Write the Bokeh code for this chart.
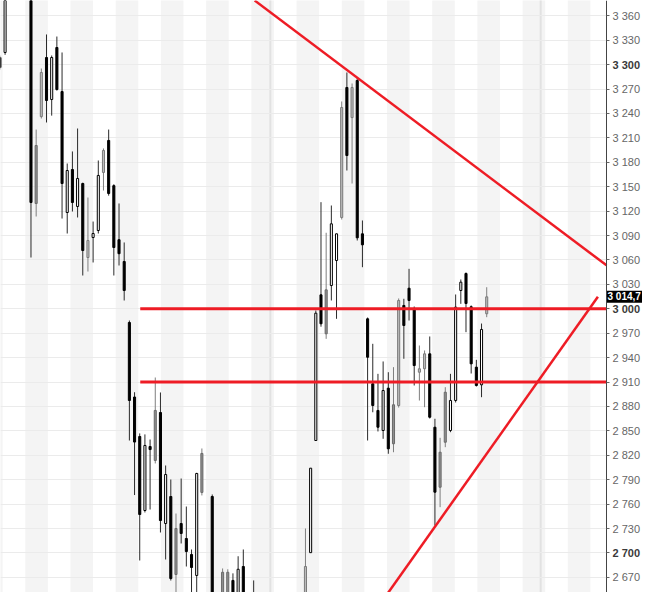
from bokeh.plotting import figure
from bokeh.models import Range1d, FixedTicker, CustomJSTickFormatter, ColumnDataSource
from bokeh.core.properties import value
from bokeh.embed import file_html
from bokeh.resources import INLINE

# ---------------- data (trading-day index, OHLC, candle look) ----------------
days = [0, 1, 6, 7, 8, 9, 10, 11, 12, 13, 14, 15, 16, 17, 18, 19, 20, 21, 22, 23, 24,
        25, 26, 27, 28, 29, 30, 31, 32, 33, 34, 35, 36, 37, 38, 39, 41, 43, 44, 45, 46, 47, 49, 50,
        59, 60, 61, 62, 63, 64, 65, 66, 67, 68, 69, 70, 71, 72, 73, 74, 75, 76, 77, 78, 79,
        80, 81, 82, 83, 84, 85, 86, 87, 88, 89, 90, 91, 92, 93, 94]
opens = [3308.7, 3314.9, 3395.0, 3129.4, 3236.1, 3308.7, 3257.1, 3321.0, 3266.9, 3118.3, 3171.1, 3125.7,
         3153.9, 3063.0, 3087.6, 3096.2, 3167.5, 3206.8, 3151.3, 3084.9, 3058.1,
         2983.2, 2891.6, 2843.1, 2752.2, 2830.8, 2813.7, 2872.6, 2736.2, 2769.4, 2673.6, 2736.2, 2717.8,
         2698.2, 2672.4, 2774.4, 2769.4, 2630.0, 2632.0, 2666.3, 2630.0, 2683.4, 2648.0, 2620.0,
         2630.0, 2700.4, 2838.2, 3017.2, 2969.3, 3028.6, 3059.3, 3112.2, 3271.9, 3234.9, 3280.5, 3092.1,
         2987.7, 2907.9, 2875.1, 2850.5, 2902.5, 2834.2, 2881.2, 3004.1, 3025.3,
         3000.4, 2922.1, 2926.3, 2944.7, 2854.5, 2780.8, 2836.1, 2850.5, 2887.4, 3022.5, 3043.4, 3002.5,
         2928.3, 2906.6, 2993.9]
highs = [3311.0, 3395.0, 3400.0, 3220.2, 3295.2, 3337.0, 3311.2, 3334.5, 3314.9, 3178.5, 3193.3, 3221.5,
         3155.0, 3136.7, 3107.2, 3182.2, 3197.0, 3220.2, 3153.0, 3129.4, 3081.5,
         2985.6, 2897.5, 2846.9, 2845.7, 2839.4, 2915.6, 2897.2, 2807.5, 2790.3, 2748.5, 2791.5, 2757.1,
         2704.3, 2798.5, 2828.4, 2771.9, 2681.0, 2680.0, 2675.0, 2696.0, 2704.3, 2666.3, 2645.0,
         2730.1, 2804.2, 2997.9, 3131.0, 3093.4, 3126.9, 3092.5, 3254.7, 3290.3, 3276.8, 3284.2, 3108.5,
         2989.3, 2957.0, 2920.1, 2935.3, 2922.1, 2928.3, 3012.7, 3012.3, 3049.1,
         3002.8, 2954.9, 2948.8, 2966.0, 2864.9, 2841.5, 2903.7, 2920.1, 3017.6, 3036.0, 3044.6, 3004.1,
         2937.3, 2981.9, 3026.5]
lows = [3294.0, 3312.0, 3063.0, 3113.4, 3233.8, 3228.9, 3237.3, 3268.0, 3110.9, 3092.5, 3119.5, 3112.2,
        3040.9, 3045.8, 3056.9, 3092.5, 3145.3, 3139.0, 3040.9, 3053.2, 3010.2,
        2838.2, 2771.2, 2690.8, 2749.8, 2753.4, 2810.0, 2725.2, 2692.0, 2666.2, 2651.5, 2711.7, 2683.4,
        2646.6, 2630.0, 2770.7, 2615.0, 2620.0, 2618.0, 2610.0, 2620.0, 2615.0, 2600.0, 2600.0,
        2620.0, 2700.4, 2838.2, 2978.0, 2963.1, 3010.2, 2987.7, 3109.7, 3169.9, 3153.9, 3083.9, 3051.1,
        2838.2, 2872.9, 2849.3, 2840.3, 2821.9, 2823.8, 2878.7, 2938.6, 2985.6,
        2905.8, 2887.3, 2879.1, 2865.2, 2733.8, 2756.3, 2830.0, 2848.4, 2884.9, 3006.1, 2971.3, 2920.5,
        2904.5, 2891.4, 2989.7]
closes = [3296.4, 3390.0, 3130.6, 3200.6, 3290.3, 3255.9, 3308.7, 3269.4, 3153.9, 3169.9, 3130.6, 3160.1,
          3071.6, 3083.9, 3092.5, 3163.8, 3194.5, 3141.7, 3075.3, 3067.7, 3022.5,
          2887.4, 2836.3, 2747.3, 2832.1, 2827.1, 2875.1, 2739.9, 2796.4, 2668.6, 2730.1, 2724.0, 2701.8,
          2682.2, 2797.7, 2822.3, 2625.0, 2676.3, 2676.3, 2620.0, 2680.0, 2625.0, 2610.0, 2630.0,
          2683.4, 2804.2, 2994.6, 2981.6, 3023.3, 3104.4, 3092.1, 3247.3, 3188.3, 3271.9, 3087.2, 3078.6,
          2940.5, 2881.2, 2854.5, 2899.6, 2828.0, 2882.1, 3010.2, 2979.5, 3010.2,
          2930.3, 2926.3, 2944.7, 2866.8, 2774.7, 2823.8, 2897.5, 2887.4, 3002.0, 3032.7, 3006.5, 2932.4,
          2905.8, 2974.6, 3014.7]
styles = ["k", "w", "k", "g", "gw", "k", "w", "k", "k", "w", "k", "w",
          "k", "gw", "w", "w", "gw", "k", "k", "k", "k",
          "k", "k", "k", "w", "k", "g", "k", "w", "k", "g", "k", "k",
          "k", "w", "g", "k", "g", "g", "k", "w", "k", "k", "w",
          "gw", "w", "w", "k", "g", "w", "w", "gw", "k", "gw", "k", "k",
          "k", "k", "k", "w", "k", "g", "gw", "k", "k",
          "k", "gw", "gw", "k", "k", "g", "g", "w", "w", "w", "k", "k",
          "k", "w", "gw"]

tick_values = [2640, 2670, 2700, 2730, 2760, 2790, 2820, 2850, 2880, 2910, 2940, 2970, 3000,
               3030, 3060, 3090, 3120, 3150, 3180, 3210, 3240, 3270, 3300, 3330, 3360]
tick_labels = ["2 640", "2 670", "2 700", "2 730", "2 760", "2 790", "2 820", "2 850", "2 880",
               "2 910", "2 940", "2 970", "3 000", "3 030", "3 060", "3 090", "3 120", "3 150",
               "3 180", "3 210", "3 240", "3 270", "3 300", "3 330", "3 360"]
bold_ticks = [2700, 3000, 3300]

last_price = 3014.7
last_label = "3 014,7"

support_levels = [3000, 2910]
support_start = 27.1
upper_days = [49.2, 117.13]
upper_prices = [3378.7, 3053.4]
lower_days = [73.0, 115.47]
lower_prices = [2633.5, 3014.7]

# ---------------- layout / style ----------------
W, H = 642, 592
AX_PX = 606                       # pixel column of the price axis
X0, AX = 0.1147, 117.13           # left edge / axis position in trading days
PXD = AX_PX / (AX - X0)           # pixels per trading day
X1 = X0 + W / PXD
Y0, Y1 = 2651.47, 3378.75
PXP = H / (Y1 - Y0)               # pixels per price point
BAND_START, BAND_PERIOD, BAND_WIDTH = 4.9, 8.73, 4.36
SEPARATORS = [52.22, 104.42]
RED = "#ee1c25"
FONT = "Liberation Sans"

p = figure(width=W, height=H, output_backend="svg", toolbar_location=None,
           x_range=Range1d(X0, X1), y_range=Range1d(Y0, Y1),
           x_axis_location=None, y_axis_location="right",
           min_border_left=0, min_border_top=0, min_border_bottom=0, min_border_right=0)
p.outline_line_color = None
p.background_fill_color = "white"
p.border_fill_color = "white"

# alternating vertical bands
lefts = [BAND_START + k * BAND_PERIOD for k in range(-1, 13)]
p.quad(left=lefts, right=[min(l + BAND_WIDTH, AX) for l in lefts], bottom=Y0 - 500, top=Y1 + 500,
       fill_color="#f4f4f4", line_color=None, level="image")
p.segment(x0=SEPARATORS, x1=SEPARATORS, y0=[Y0 - 500] * 2, y1=[Y1 + 500] * 2,
          line_color="#e2e2e2", line_width=2, level="image")

ticker = FixedTicker(ticks=tick_values)
ax = p.yaxis[0]
ax.ticker = ticker
ax.fixed_location = AX
p.ygrid.ticker = ticker
p.ygrid.grid_line_color = "#ebebeb"
p.ygrid.grid_line_width = 1
p.xgrid.visible = False

# keep the axis area on the right free of grid lines
p.quad(left=[AX], right=[X1 + 5], bottom=[Y0 - 500], top=[Y1 + 500],
       fill_color="white", line_color=None)

fmt = CustomJSTickFormatter(args=dict(vals=tick_values, labs=tick_labels, bold=bold_ticks), code="""
for (let i = 0; i < vals.length; i++) {
  if (Math.abs(vals[i] - tick) < 1e-6) {
    for (const b of bold) { if (Math.abs(b - tick) < 1e-6) return ""; }
    return labs[i];
  }
}
return "";
""")
ax.formatter = fmt
ax.axis_line_color = "#444444"
ax.axis_line_width = 1
ax.major_tick_out = 3
ax.major_tick_in = 0
ax.minor_tick_line_color = None
ax.major_tick_line_color = "#666666"
ax.major_label_standoff = 3
ax.major_label_text_font = FONT
ax.major_label_text_font_size = "11px"
ax.major_label_text_color = "#666666"

# bold round-number labels
p.text(x=[AX + 6 / PXD] * len(bold_ticks), y=bold_ticks,
       text=[tick_labels[tick_values.index(t)] for t in bold_ticks],
       text_font=value(FONT), text_font_size="11px", text_font_style="bold",
       text_color="#3a3a3a", text_align="left", text_baseline="middle")

# candles
fills = {"k": "#000000", "w": "#ffffff", "g": "#8f8f8f", "gw": "#bdbdbd"}
edges = {"k": "#000000", "w": "#000000", "g": "#6a6a6a", "gw": "#7a7a7a"}
wicks = {"k": "#2a2a2a", "w": "#2a2a2a", "g": "#7f7f7f", "gw": "#7f7f7f"}
src = ColumnDataSource(dict(
    x=days, high=highs, low=lows,
    top=[max(o, c) for o, c in zip(opens, closes)],
    bottom=[min(o, c) for o, c in zip(opens, closes)],
    fill=[fills[s] for s in styles], edge=[edges[s] for s in styles], wick=[wicks[s] for s in styles]))
p.segment(x0="x", x1="x", y0="low", y1="high", line_color="wick", line_width=1, source=src)
p.vbar(x="x", width=0.4, top="top", bottom="bottom", fill_color="fill", line_color="edge",
       line_width=1, source=src)

# horizontal levels and trend lines
p.segment(x0=[support_start] * len(support_levels), x1=[AX] * len(support_levels),
          y0=support_levels, y1=support_levels, line_color=RED, line_width=3)
p.line(upper_days, upper_prices, line_color=RED, line_width=2.5)
p.line(lower_days, lower_prices, line_color=RED, line_width=2.5)

# last price tag on the axis
half = 6 / PXP
p.quad(left=[AX], right=[X1 + 5], bottom=[last_price - half], top=[last_price + half],
       fill_color="black", line_color=None)
p.text(x=[AX + 1 / PXD], y=[last_price], text=[last_label],
       text_font=value(FONT), text_font_size="10px", text_font_style="bold",
       text_color="white", text_align="left", text_baseline="middle")

open("out.html", "w").write(file_html(p, INLINE))
